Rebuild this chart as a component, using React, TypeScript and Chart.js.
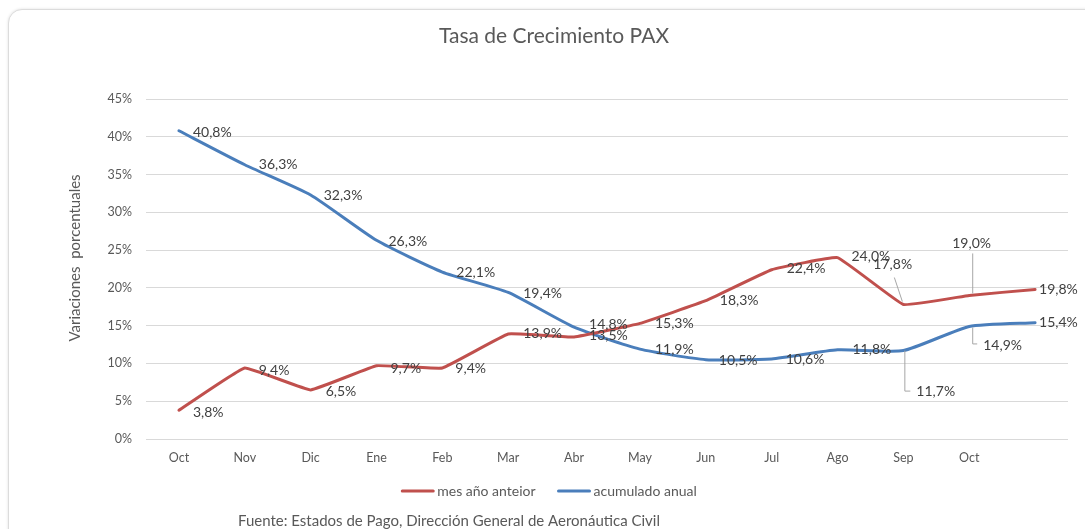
import React, { useEffect, useRef } from "react";
import { Chart, registerables } from "chart.js";

Chart.register(...registerables);

const categories = ["Oct", "Nov", "Dic", "Ene", "Feb", "Mar", "Abr", "May", "Jun", "Jul", "Ago", "Sep", "Oct", ""];
const mesAnoAnterior = [3.8, 9.4, 6.5, 9.7, 9.4, 13.9, 13.5, 15.3, 18.3, 22.4, 24.0, 17.8, 19.0, 19.8];
const acumuladoAnual = [40.8, 36.3, 32.3, 26.3, 22.1, 19.4, 14.8, 11.9, 10.5, 10.6, 11.8, 11.7, 14.9, 15.4];
const yTicks = [0, 5, 10, 15, 20, 25, 30, 35, 40, 45];

const seriesNames = ["mes año anteior", "acumulado anual"];
const titleText = "Tasa de Crecimiento PAX";
const yAxisTitle = "Variaciones  porcentuales";
const footerText = "Fuente: Estados de Pago, Dirección General de Aeronáutica Civil";

const RED = "#C0504D";
const BLUE = "#4A7EBB";
const TEXT = "#595959";
const LABEL = "#404040";
const FONT = "Lato, 'Open Sans', sans-serif";

// label placement relative to each point: [dx, dy, leaderType]
const redLabelPos: [number, number, string?][] = [
  [14, 2], [14, 3], [15, 2], [14, 3], [13, 1], [15, 0], [15, -2], [15, 0], [14, 0], [15, -1], [14, -1],
  [-30, -40, "diag"], [-17, -52, "vert"], [4, 0],
];
const blueLabelPos: [number, number, string?][] = [
  [14, 2], [14, 0], [13, 1], [12, 1], [14, 0], [15, 1], [15, -3], [15, 0], [13, 1], [14, 1], [15, 0],
  [13, 41, "elbow"], [14, 19, "elbow2"], [4, 0],
];

const fmt = (v: number) => v.toFixed(1).replace(".", ",") + "%";

const decorPlugin = {
  id: "decor",
  afterDatasetsDraw(chart: any) {
    const ctx = chart.ctx;
    ctx.save();
    const layouts = [redLabelPos, blueLabelPos];
    chart.data.datasets.forEach((ds: any, di: number) => {
      const meta = chart.getDatasetMeta(di);
      meta.data.forEach((pt: any, i: number) => {
        const [dx, dy, leader] = layouts[di][i];
        const lx = pt.x + dx;
        const ly = pt.y + dy;
        ctx.strokeStyle = "#A6A6A6";
        ctx.lineWidth = 1;
        if (leader === "diag") {
          ctx.beginPath();
          ctx.moveTo(lx + 21, ly + 13);
          ctx.lineTo(pt.x - 1, pt.y - 3);
          ctx.stroke();
        } else if (leader === "vert") {
          ctx.beginPath();
          ctx.moveTo(pt.x + 3.5, ly + 10);
          ctx.lineTo(pt.x + 3.5, pt.y - 2);
          ctx.stroke();
        } else if (leader === "elbow") {
          ctx.beginPath();
          ctx.moveTo(pt.x + 1.5, pt.y);
          ctx.lineTo(pt.x + 1.5, ly - 0.5);
          ctx.lineTo(lx - 6, ly - 0.5);
          ctx.stroke();
        } else if (leader === "elbow2") {
          ctx.beginPath();
          ctx.moveTo(pt.x + 3.5, pt.y + 1);
          ctx.lineTo(pt.x + 3.5, ly - 1.5);
          ctx.lineTo(lx - 6, ly - 1.5);
          ctx.stroke();
        }
        ctx.fillStyle = LABEL;
        ctx.font = `14px ${FONT}`;
        ctx.textAlign = "left";
        ctx.textBaseline = "middle";
        ctx.fillText(fmt(ds.data[i]), lx, ly);
      });
    });
    ctx.restore();
  },
  afterDraw(chart: any) {
    const ctx = chart.ctx;
    ctx.save();
    ctx.fillStyle = TEXT;
    ctx.font = `21px ${FONT}`;
    ctx.textAlign = "center";
    ctx.textBaseline = "middle";
    ctx.fillText(titleText, 554, 36);
    ctx.save();
    ctx.translate(75, 258);
    ctx.rotate(-Math.PI / 2);
    ctx.font = `15px ${FONT}`;
    ctx.fillText(yAxisTitle, 0, 0);
    ctx.restore();
    ctx.font = `14px ${FONT}`;
    ctx.textAlign = "left";
    const sw = 33, gap = 3, spacing = 22;
    const widths = seriesNames.map((n) => ctx.measureText(n).width);
    const total = widths.reduce((a, w) => a + sw + gap + w, 0) + spacing;
    let x = 549 - total / 2;
    const ly = 491;
    const cols = [RED, BLUE];
    seriesNames.forEach((n, i) => {
      ctx.strokeStyle = cols[i];
      ctx.lineWidth = 3;
      ctx.lineCap = "round";
      ctx.beginPath();
      ctx.moveTo(x + 1, ly);
      ctx.lineTo(x + sw - 1, ly);
      ctx.stroke();
      ctx.fillStyle = TEXT;
      ctx.fillText(n, x + sw + gap, ly);
      x += sw + gap + widths[i] + spacing;
    });
    ctx.font = `15px ${FONT}`;
    ctx.fillStyle = TEXT;
    ctx.fillText(footerText, 238, 521);
    ctx.restore();
  },
};

export default function App() {
  const canvasRef = useRef<HTMLCanvasElement | null>(null);

  useEffect(() => {
    if (!canvasRef.current) return;
    const chart = new Chart(canvasRef.current, {
      type: "line",
      data: {
        labels: categories,
        datasets: [
          {
            label: seriesNames[0],
            data: mesAnoAnterior,
            borderColor: RED,
            backgroundColor: RED,
            borderWidth: 3,
            pointRadius: 0,
            tension: 0.08,
            borderCapStyle: "round",
            borderJoinStyle: "round",
          },
          {
            label: seriesNames[1],
            data: acumuladoAnual,
            borderColor: BLUE,
            backgroundColor: BLUE,
            borderWidth: 3,
            pointRadius: 0,
            tension: 0.18,
            borderCapStyle: "round",
            borderJoinStyle: "round",
          },
        ],
      },
      options: {
        animation: false,
        responsive: false,
        devicePixelRatio: 1,
        layout: { padding: { top: 99, right: 17, left: 0, bottom: 0 } },
        plugins: {
          legend: { display: false },
          title: { display: false },
          tooltip: { enabled: false },
        },
        scales: {
          x: {
            type: "category",
            offset: true,
            grid: { display: false, drawTicks: false },
            border: { display: false },
            ticks: {
              color: TEXT,
              font: { family: FONT, size: 12.5 },
              padding: 11,
              maxRotation: 0,
              autoSkip: false,
            },
            afterFit: (scale: any) => {
              scale.height = 90;
            },
          },
          y: {
            min: 0,
            max: 45,
            afterBuildTicks: (scale: any) => {
              scale.ticks = yTicks.map((v) => ({ value: v }));
            },
            grid: { color: "#D9D9D9", lineWidth: 1, drawTicks: false },
            border: { display: false },
            ticks: {
              color: TEXT,
              font: { family: FONT, size: 12.5 },
              padding: 14,
              callback: (v: any) => v + "%",
            },
            afterFit: (scale: any) => {
              scale.width = 146;
            },
          },
        },
      },
      plugins: [decorPlugin],
    } as any);
    return () => chart.destroy();
  }, []);

  return (
    <div
      style={{
        position: "fixed",
        left: 0,
        top: 0,
        width: 1085,
        height: 529,
        overflow: "hidden",
        background: "#fff",
      }}
    >
      <div
        style={{
          position: "absolute",
          left: 8,
          top: 9,
          width: 1110,
          height: 560,
          border: "1px solid #DCDCDC",
          borderRadius: 14,
          boxShadow: "0 0 3px rgba(0,0,0,0.12)",
          background: "#fff",
        }}
      />
      <canvas
        ref={canvasRef}
        width={1085}
        height={529}
        style={{ position: "absolute", left: 0, top: 0, width: 1085, height: 529 }}
      />
    </div>
  );
}
